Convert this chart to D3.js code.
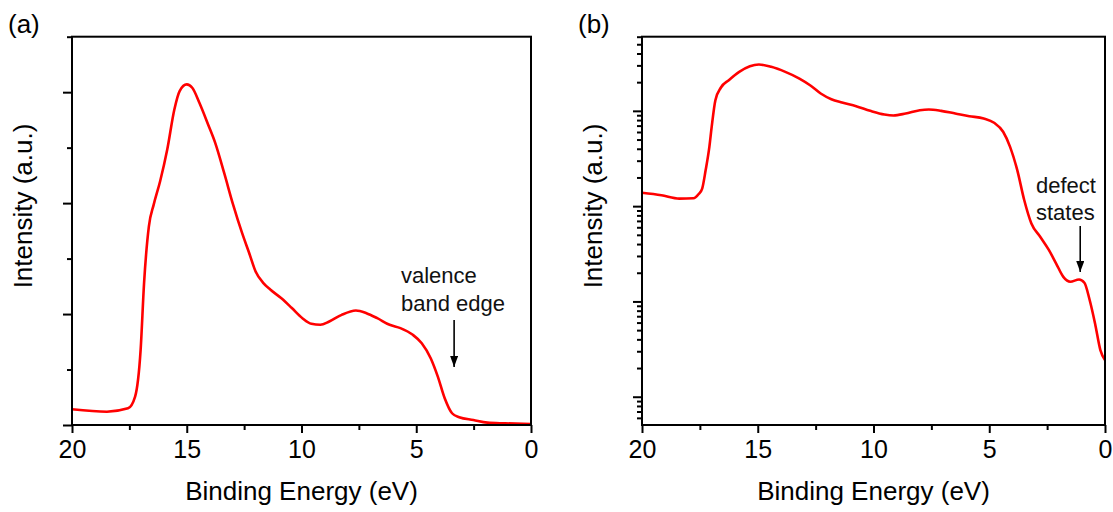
<!DOCTYPE html>
<html>
<head>
<meta charset="utf-8">
<script src="https://cdn.jsdelivr.net/npm/d3@7/dist/d3.min.js"></script>
<style>
  html, body { margin: 0; padding: 0; background: #fff; }
  svg { display: block; font-family: "Liberation Sans", Arial, sans-serif; }
</style>
</head>
<body>
<svg id="chart" width="1113" height="512"></svg>
<script>
// Valence-band photoemission spectrum, linear intensity (panel a)
const energyA = [20.0, 18.48, 17.56, 17.25, 17.01, 16.86, 16.65, 16.44, 16.16, 15.85,
  15.54, 15.31, 15.0, 14.76, 14.45, 14.07, 13.76, 13.37, 12.98, 12.59,
  12.28, 12.0, 11.66, 11.35, 10.89, 10.42, 9.96, 9.57, 9.18, 8.79,
  8.25, 7.63, 7.17, 6.70, 6.16, 5.69, 5.15, 4.76, 4.37, 4.06,
  3.76, 3.44, 3.13, 2.51, 1.9, 1.12, 0.0];
const intensityA = [142, 120, 150, 256, 677, 1279, 1791, 1986, 2197, 2483,
  2844, 3010, 3070, 3040, 2905, 2709, 2543, 2272, 1986, 1731,
  1550, 1384, 1279, 1219, 1144, 1054, 963, 912, 903, 933,
  993, 1032, 1008, 963, 903, 873, 813, 737, 602, 436,
  241, 106, 70, 45, 21, 15, 8];

// Same spectrum on a logarithmic intensity scale (panel b)
const energyB = [20.0, 19.16, 18.39, 17.78, 17.55, 17.4, 17.25, 17.09, 16.99, 16.83,
  16.59, 16.25, 15.8, 15.34, 14.95, 14.42, 13.81, 13.2, 12.74, 12.28,
  11.82, 11.36, 10.75, 10.14, 9.53, 9.14, 8.61, 8.0, 7.61, 7.08,
  6.47, 5.86, 5.24, 4.79, 4.4, 4.1, 3.79, 3.49, 3.18, 2.8,
  2.42, 2.11, 1.8, 1.5, 1.12, 0.89, 0.66, 0.43, 0.2, 0.0];
const intensityB = [138, 130, 120, 121, 134, 153, 239, 419, 679, 1294,
  1757, 2099, 2566, 2942, 3062, 2897, 2566, 2183, 1858, 1520,
  1324, 1222, 1119, 1000, 915, 894, 938, 1016, 1033, 1000,
  938, 879, 831, 749, 603, 419, 239, 116, 65.8, 47.7,
  34.5, 25, 18.1, 16.1, 17.0, 15.7, 10.3, 5.88, 3.09, 2.42];

const xMajorTicks = [20, 15, 10, 5, 0];
const xMinorTicks = [17.5, 12.5, 7.5, 2.5];
const yMajorTicksA = [0, 1000, 2000, 3000];
const yMinorTicksA = [500, 1500, 2500, 3500];
const yMajorTicksB = [1, 10, 100, 1000];
const yMinorTicksB = [0.6, 0.7, 0.8, 0.9,
  2, 3, 4, 5, 6, 7, 8, 9,
  20, 30, 40, 50, 60, 70, 80, 90,
  200, 300, 400, 500, 600, 700, 800, 900,
  2000, 3000, 4000, 5000, 6000];

const svg = d3.select("#chart");
const plotTop = 36.7, plotBottom = 425;

function drawPanel(opts) {
  const { left, right, y, energy, intensity, yMajor, yMinor, label, titleX } = opts;
  const x = d3.scaleLinear().domain([20, 0]).range([left, right]);
  const g = svg.append("g");

  // x axis: labelled major ticks and unlabelled minor ticks, pointing outward
  const xMaj = g.append("g").attr("transform", `translate(0,${plotBottom})`)
    .call(d3.axisBottom(x).tickValues(xMajorTicks).tickSize(8).tickPadding(7)
      .tickFormat(d3.format("d")));
  const xMin = g.append("g").attr("transform", `translate(0,${plotBottom})`)
    .call(d3.axisBottom(x).tickValues(xMinorTicks).tickSize(5).tickFormat(""));

  // y axis: ticks only, no numbers
  const yMaj = g.append("g").attr("transform", `translate(${left},0)`)
    .call(d3.axisLeft(y).tickValues(yMajor).tickSize(9).tickFormat(""));
  const yMin = g.append("g").attr("transform", `translate(${left},0)`)
    .call(d3.axisLeft(y).tickValues(yMinor).tickSize(5).tickFormat(""));

  [xMaj, xMin, yMaj, yMin].forEach(a => {
    a.select(".domain").remove();
    a.selectAll(".tick line").attr("stroke", "#000").attr("stroke-width", 2);
  });
  xMaj.selectAll(".tick text")
    .attr("font-size", 25).attr("fill", "#000")
    .attr("font-family", "'Liberation Sans', Arial, sans-serif");

  // spectrum line
  const line = d3.line()
    .x((d, i) => x(energy[i]))
    .y((d, i) => y(intensity[i]))
    .curve(d3.curveMonotoneX);
  g.append("path")
    .datum(intensity)
    .attr("d", line)
    .attr("fill", "none")
    .attr("stroke", "#ff0000")
    .attr("stroke-width", 2.6)
    .attr("stroke-linejoin", "round");

  // plot frame
  g.append("rect")
    .attr("x", left).attr("y", plotTop)
    .attr("width", right - left).attr("height", plotBottom - plotTop)
    .attr("fill", "none").attr("stroke", "#000").attr("stroke-width", 2);

  // titles
  g.append("text")
    .attr("x", (left + right) / 2).attr("y", 500)
    .attr("text-anchor", "middle").attr("font-size", 26)
    .text("Binding Energy (eV)");
  g.append("text")
    .attr("transform", `translate(${titleX},206) rotate(-90)`)
    .attr("text-anchor", "middle").attr("font-size", 26)
    .text("Intensity (a.u.)");
  g.append("text")
    .attr("x", left - 64).attr("y", 33)
    .attr("font-size", 26)
    .text(label);

  return { g, x, y };
}

// arrowhead marker for the annotations
svg.append("defs").append("marker")
  .attr("id", "arrow").attr("viewBox", "0 0 10 10")
  .attr("refX", 10).attr("refY", 5)
  .attr("markerWidth", 11).attr("markerHeight", 8)
  .attr("markerUnits", "userSpaceOnUse")
  .attr("orient", "auto")
  .attr("preserveAspectRatio", "none")
  .append("path").attr("d", "M0,0 L10,5 L0,10 Z").attr("fill", "#000");

function annotate(g, lines, tx, ty, ax, ay0, ay1) {
  const t = g.append("text").attr("font-size", 22).attr("fill", "#111");
  lines.forEach((s, i) => t.append("tspan").attr("x", tx).attr("y", ty + i * 27.7).text(s));
  g.append("line")
    .attr("x1", ax).attr("x2", ax).attr("y1", ay0).attr("y2", ay1)
    .attr("stroke", "#000").attr("stroke-width", 1.6)
    .attr("marker-end", "url(#arrow)");
}

// panel (a): linear scale
const yA = d3.scaleLinear().domain([0, 3500]).range([plotBottom, plotTop]);
const pA = drawPanel({
  left: 72, right: 531, y: yA,
  energy: energyA, intensity: intensityA,
  yMajor: yMajorTicksA, yMinor: yMinorTicksA,
  label: "(a)", titleX: 32
});
annotate(pA.g, ["valence", "band edge"], 401, 283.3,
  pA.x(3.35), 320, 367);

// panel (b): logarithmic scale
const yB = d3.scaleLog().domain([0.505, 6000]).range([plotBottom, plotTop]);
const pB = drawPanel({
  left: 642, right: 1105, y: yB,
  energy: energyB, intensity: intensityB,
  yMajor: yMajorTicksB, yMinor: yMinorTicksB,
  label: "(b)", titleX: 602
});
annotate(pB.g, ["defect", "states"], 1036, 192.7,
  pB.x(1.07), 226, 272);
</script>
</body>
</html>
